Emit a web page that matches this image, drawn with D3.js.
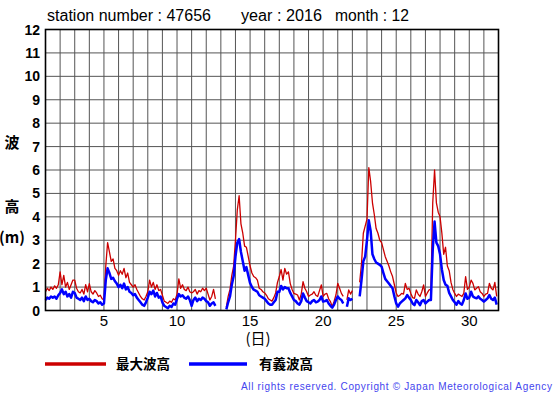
<!DOCTYPE html>
<html>
<head>
<meta charset="utf-8">
<script src="https://cdn.jsdelivr.net/npm/d3@7"></script>
<style>
  body { margin: 0; background: #fff; }
  text { font-family: "Liberation Sans", Arial, sans-serif; }
</style>
</head>
<body>
<div id="chart"></div>
<script>
// wave heights (m), 3-hourly, one row per day of December 2016; null = missing
var maxWave = [
    [0.80, 0.95, 0.85, 1.00, 0.90, 1.05, 0.95, 1.10],   // 1
    [1.65, 1.10, 1.50, 1.00, 1.20, 0.90, 1.10, 1.30],
    [1.30, 0.95, 0.80, 0.75, 0.90, 0.70, 1.10, 0.80],
    [1.15, 0.80, 0.70, 0.85, 0.75, 0.60, 0.65, 0.50],
    [0.45, 1.90, 2.90, 2.50, 2.10, 2.20, 1.80, 1.70],   // 5
    [1.50, 1.70, 1.55, 1.80, 1.40, 1.60, 1.20, 1.10],
    [1.00, 1.10, 0.90, 0.75, 0.60, 0.50, 0.45, 0.60],
    [0.80, 1.30, 1.00, 1.20, 0.90, 1.10, 0.85, 0.90],
    [0.65, 0.40, 0.35, 0.30, 0.40, 0.35, 0.50, 0.45],
    [0.70, 1.35, 0.95, 1.10, 0.90, 0.85, 1.00, 0.80],   // 10
    [0.75, 0.80, 0.90, 0.70, 0.85, 0.80, 0.95, 0.85],
    [0.95, 0.70, 0.45, 0.60, 0.90, 0.50, null, null],
    [null, null, null, 0.15, 0.60, 0.90, 1.50, 1.90],
    [3.00, 4.30, 4.90, 3.70, 3.30, 2.75, 2.70, 2.30],
    [1.90, 1.60, 1.45, 1.40, 1.30, 0.95, 0.90, 0.80],   // 15
    [0.75, 0.65, 0.50, 0.45, 0.40, 0.55, 0.75, 1.20],
    [1.45, 1.75, 1.30, 1.80, 1.55, 1.65, 1.15, 0.90],
    [0.73, 0.70, 0.66, 0.45, 0.70, 1.23, 0.95, 0.80],
    [0.60, 0.66, 0.70, 0.80, 0.65, 0.60, 0.85, 1.09],
    [0.60, 0.70, 0.73, 0.50, 0.38, 0.16, 0.40, 0.66],   // 20
    [1.16, 0.95, 0.73, 0.60, null, 0.45, 0.88, 0.70],
    [0.85, null, null, null, 1.20, 2.00, 3.30, 3.60],
    [3.90, 6.10, 5.50, 4.60, 4.10, 3.50, 3.30, 3.00],
    [2.90, 2.60, 2.30, 2.10, 1.90, 1.65, 1.45, 1.10],
    [0.75, 0.60, 0.65, 0.73, 0.70, 1.16, 0.90, 0.95],   // 25
    [0.73, 0.55, 0.52, 0.88, 0.70, 0.60, 0.80, 1.09],
    [0.60, 0.75, 0.88, 0.90, 4.60, 6.00, 4.60, 4.20],
    [4.00, 3.30, 2.40, 2.70, 1.90, 1.70, 1.20, 0.90],
    [0.73, 0.60, 0.70, 0.65, 0.60, 0.73, 1.45, 0.90],
    [1.00, 1.30, 1.16, 0.88, 0.95, 1.02, 0.80, 0.73],   // 30
    [0.60, 0.70, 0.73, 1.16, 0.95, 0.88, 1.20, 0.60]
];

var sigWave = [
    [0.45, 0.55, 0.50, 0.60, 0.55, 0.60, 0.50, 0.65],   // 1
    [0.75, 0.90, 0.70, 0.80, 0.60, 0.70, 0.55, 0.80],
    [0.75, 0.55, 0.50, 0.45, 0.55, 0.40, 0.60, 0.45],
    [0.50, 0.40, 0.35, 0.45, 0.40, 0.30, 0.35, 0.25],
    [0.30, 1.30, 1.80, 1.60, 1.35, 1.40, 1.25, 1.15],   // 5
    [1.00, 1.10, 0.95, 1.15, 0.90, 1.00, 0.80, 0.75],
    [0.65, 0.70, 0.55, 0.45, 0.35, 0.25, 0.20, 0.35],
    [0.55, 0.80, 0.70, 0.85, 0.60, 0.75, 0.55, 0.60],
    [0.35, 0.20, 0.15, 0.10, 0.20, 0.15, 0.30, 0.25],
    [0.50, 0.70, 0.60, 0.65, 0.55, 0.50, 0.60, 0.45],   // 10
    [0.20, 0.45, 0.55, 0.40, 0.50, 0.45, 0.55, 0.50],
    [0.40, 0.35, 0.20, 0.30, 0.35, 0.20, null, null],
    [null, null, null, 0.05, 0.35, 0.60, 1.10, 1.46],
    [2.30, 2.90, 3.05, 2.50, 2.10, 1.70, 1.85, 1.50],
    [1.17, 1.00, 0.89, 0.85, 0.80, 0.65, 0.60, 0.55],   // 15
    [0.50, 0.40, 0.30, 0.25, 0.25, 0.35, 0.45, 0.80],
    [0.80, 1.05, 0.90, 1.00, 0.95, 0.95, 0.75, 0.60],
    [0.45, 0.40, 0.30, 0.25, 0.40, 0.73, 0.55, 0.40],
    [0.35, 0.30, 0.40, 0.45, 0.35, 0.38, 0.45, 0.60],
    [0.38, 0.40, 0.45, 0.30, 0.20, 0.12, 0.25, 0.45],   // 20
    [0.60, 0.50, 0.45, 0.30, null, 0.16, 0.52, 0.45],
    [0.50, null, null, null, 0.60, 1.30, 2.10, 2.30],
    [3.00, 3.85, 3.40, 2.40, 2.20, 2.05, 2.00, 1.95],
    [1.87, 1.60, 1.35, 1.25, 1.15, 1.05, 0.95, 0.60],
    [0.30, 0.16, 0.30, 0.38, 0.45, 0.52, 0.66, 0.55],   // 25
    [0.45, 0.30, 0.23, 0.45, 0.35, 0.23, 0.40, 0.45],
    [0.30, 0.38, 0.45, 0.45, 2.60, 3.80, 2.90, 2.75],
    [2.40, 1.75, 1.30, 1.10, 1.05, 0.75, 0.60, 0.45],
    [0.35, 0.25, 0.40, 0.30, 0.25, 0.45, 0.73, 0.50],
    [0.55, 0.80, 0.60, 0.55, 0.52, 0.60, 0.50, 0.45],   // 30
    [0.38, 0.45, 0.52, 0.66, 0.50, 0.45, 0.55, 0.25]
];

var stepsPerDay = 8;
var xTickLabels = [5, 10, 15, 20, 25, 30];
var yTickLabels = [0, 1, 2, 3, 4, 5, 6, 7, 8, 9, 10, 11, 12];
var seriesNames = ["最大波高", "有義波高"];
var seriesColors = ["#cc0000", "#0000ff"];

var width = 555,
    height = 395;

var svg = d3.select("#chart").append("svg")
    .attr("width", width)
    .attr("height", height);

// plot area
var margin = {top: 29.5, right: 56.5, bottom: 84.5, left: 45.5};
var x_scale = d3.scaleLinear()
    .domain([1, 32])
    .range([margin.left, width - margin.right]);
var y_scale = d3.scaleLinear()
    .domain([0, 12])
    .range([height - margin.bottom, margin.top]);

// grid
var grid = svg.append("g");
grid.selectAll(".vgrid")
    .data(d3.range(2, 32))
    .enter().append("line")
    .attr("x1", function(d) {return x_scale(d);})
    .attr("x2", function(d) {return x_scale(d);})
    .attr("y1", y_scale(0))
    .attr("y2", y_scale(12))
    .attr("stroke", "#555")
    .attr("stroke-width", 1);
grid.selectAll(".hgrid")
    .data(d3.range(1, 12))
    .enter().append("line")
    .attr("x1", x_scale(1))
    .attr("x2", x_scale(32))
    .attr("y1", function(d) {return y_scale(d);})
    .attr("y2", function(d) {return y_scale(d);})
    .attr("stroke", "#555")
    .attr("stroke-width", 1);

// flatten the day rows into time points
function toPoints(rows) {
    var pts = [];
    rows.forEach(function(row, di) {
        row.forEach(function(v, k) {
            pts.push({t: 1 + di + k / stepsPerDay, v: v});
        });
    });
    return pts;
}

var line = d3.line()
    .defined(function(d) {return d.v !== null;})
    .x(function(d) {return x_scale(d.t);})
    .y(function(d) {return y_scale(d.v);});

svg.append("path")
    .attr("d", line(toPoints(maxWave)))
    .attr("fill", "none")
    .attr("stroke", seriesColors[0])
    .attr("stroke-width", 1.3)
    .attr("stroke-linejoin", "round");

svg.append("path")
    .attr("d", line(toPoints(sigWave)))
    .attr("fill", "none")
    .attr("stroke", seriesColors[1])
    .attr("stroke-width", 2.5)
    .attr("stroke-linejoin", "round");

// frame
svg.append("rect")
    .attr("x", x_scale(1))
    .attr("y", y_scale(12))
    .attr("width", x_scale(32) - x_scale(1))
    .attr("height", y_scale(0) - y_scale(12))
    .attr("fill", "none")
    .attr("stroke", "#000")
    .attr("stroke-width", 1.6);

// y tick labels
svg.selectAll(".ytick")
    .data(yTickLabels)
    .enter().append("text")
    .attr("x", 40)
    .attr("y", function(d) {return y_scale(d) + 5;})
    .attr("text-anchor", "end")
    .style("font-size", "14px")
    .style("font-weight", "bold")
    .text(function(d) {return d;});

// x tick labels
svg.selectAll(".xtick")
    .data(xTickLabels)
    .enter().append("text")
    .attr("x", function(d) {return x_scale(d);})
    .attr("y", 326)
    .attr("text-anchor", "middle")
    .style("font-size", "15px")
    .text(function(d) {return d;});

// axis titles
svg.append("text")
    .attr("x", 258)
    .attr("y", 344)
    .attr("text-anchor", "middle")
    .style("font-size", "15px")
    .style("font-family", "'Noto Sans CJK JP', sans-serif")
    .text("(日)");

var yLab = [{s: "波", y: 148}, {s: "高", y: 212}, {s: "(m)", y: 243}];
svg.selectAll(".ylab")
    .data(yLab)
    .enter().append("text")
    .attr("x", 12)
    .attr("y", function(d) {return d.y;})
    .attr("text-anchor", "middle")
    .style("font-size", "15px")
    .style("font-weight", "bold")
    .style("font-family", "'Noto Sans CJK JP', sans-serif")
    .text(function(d) {return d.s;});

// header
var header = [
    {s: "station number : 47656", x: 47, w: 164},
    {s: "year : 2016", x: 241, w: 81},
    {s: "month : 12", x: 335, w: 74}
];
svg.selectAll(".head")
    .data(header)
    .enter().append("text")
    .attr("x", function(d) {return d.x;})
    .attr("y", 21)
    .attr("textLength", function(d) {return d.w;})
    .attr("lengthAdjust", "spacingAndGlyphs")
    .style("font-size", "16px")
    .text(function(d) {return d.s;});

// legend
var legendX = [[45, 106, 116], [189, 247, 259]];
seriesNames.forEach(function(name, i) {
    svg.append("line")
        .attr("x1", legendX[i][0])
        .attr("x2", legendX[i][1])
        .attr("y1", 364)
        .attr("y2", 364)
        .attr("stroke", seriesColors[i])
        .attr("stroke-width", 3.5);
    svg.append("text")
        .attr("x", legendX[i][2])
        .attr("y", 369)
        .style("font-size", "13.5px")
        .style("font-weight", "bold")
        .style("font-family", "'Noto Sans CJK JP', sans-serif")
        .text(name);
});

// copyright
svg.append("text")
    .attr("x", 241)
    .attr("y", 390)
    .attr("textLength", 311)
    .attr("lengthAdjust", "spacing")
    .attr("fill", "#4444ee")
    .style("font-size", "10px")
    .text("All rights reserved. Copyright \u00A9 Japan Meteorological Agency");
</script>
</body>
</html>
